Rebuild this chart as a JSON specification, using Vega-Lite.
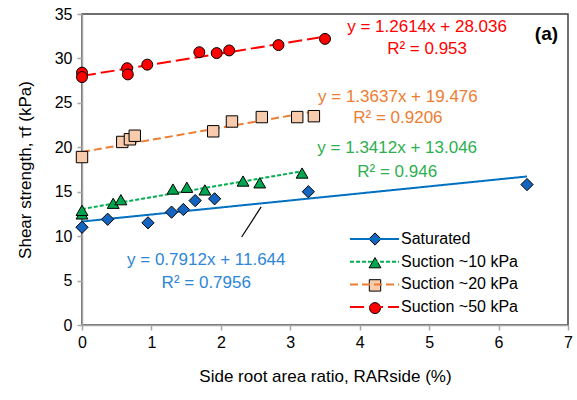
{
  "$schema": "https://vega.github.io/schema/vega-lite/v6.json",
  "width": 486,
  "height": 311,
  "padding": {"left": 82, "top": 14, "right": 9, "bottom": 75},
  "autosize": {"type": "none"},
  "config": {
    "font": "Liberation Sans",
    "view": {"stroke": "#404040", "strokeWidth": 1.5},
    "axis": {"grid": false, "domainColor": "#A6A6A6", "domainWidth": 1.5, "tickColor": "#A6A6A6", "tickWidth": 1.5, "tickSize": 5, "labelFontSize": 16, "labelColor": "#000000", "labelFlush": false, "format": "d", "titleFontSize": 17, "titleFontWeight": "normal", "titleColor": "#000000"}
  },
  "resolve": {"scale": {"color": "independent", "strokeDash": "independent"}},
  "datasets": {
    "pts": [
      {"grp": "Saturated", "x": 0, "y": 11.0},
      {"grp": "Saturated", "x": 0.37, "y": 11.9},
      {"grp": "Saturated", "x": 0.95, "y": 11.5},
      {"grp": "Saturated", "x": 1.29, "y": 12.7},
      {"grp": "Saturated", "x": 1.46, "y": 13.0},
      {"grp": "Saturated", "x": 1.63, "y": 14.0},
      {"grp": "Saturated", "x": 1.91, "y": 14.2},
      {"grp": "Saturated", "x": 3.26, "y": 15.0},
      {"grp": "Saturated", "x": 6.41, "y": 15.8},
      {"grp": "Suction ~10 kPa", "x": 0, "y": 12.5},
      {"grp": "Suction ~10 kPa", "x": 0, "y": 12.9},
      {"grp": "Suction ~10 kPa", "x": 0.45, "y": 13.7},
      {"grp": "Suction ~10 kPa", "x": 0.56, "y": 14.1},
      {"grp": "Suction ~10 kPa", "x": 1.31, "y": 15.3},
      {"grp": "Suction ~10 kPa", "x": 1.51, "y": 15.5},
      {"grp": "Suction ~10 kPa", "x": 1.77, "y": 15.2},
      {"grp": "Suction ~10 kPa", "x": 2.32, "y": 16.2},
      {"grp": "Suction ~10 kPa", "x": 2.56, "y": 16.0},
      {"grp": "Suction ~10 kPa", "x": 3.17, "y": 17.1},
      {"grp": "Suction ~20 kPa", "x": 0, "y": 18.9},
      {"grp": "Suction ~20 kPa", "x": 0.58, "y": 20.6},
      {"grp": "Suction ~20 kPa", "x": 0.69, "y": 20.9},
      {"grp": "Suction ~20 kPa", "x": 0.76, "y": 21.3},
      {"grp": "Suction ~20 kPa", "x": 1.89, "y": 21.8},
      {"grp": "Suction ~20 kPa", "x": 2.16, "y": 22.9},
      {"grp": "Suction ~20 kPa", "x": 2.59, "y": 23.4},
      {"grp": "Suction ~20 kPa", "x": 3.10, "y": 23.4},
      {"grp": "Suction ~20 kPa", "x": 3.34, "y": 23.5},
      {"grp": "Suction ~50 kPa", "x": 0, "y": 28.4},
      {"grp": "Suction ~50 kPa", "x": 0, "y": 27.9},
      {"grp": "Suction ~50 kPa", "x": 0.65, "y": 28.9},
      {"grp": "Suction ~50 kPa", "x": 0.66, "y": 28.2},
      {"grp": "Suction ~50 kPa", "x": 0.94, "y": 29.3},
      {"grp": "Suction ~50 kPa", "x": 1.69, "y": 30.7},
      {"grp": "Suction ~50 kPa", "x": 1.94, "y": 30.6},
      {"grp": "Suction ~50 kPa", "x": 2.12, "y": 30.9},
      {"grp": "Suction ~50 kPa", "x": 2.83, "y": 31.5},
      {"grp": "Suction ~50 kPa", "x": 3.5, "y": 32.2}
    ],
    "lines": [
      {"series": "Saturated", "x": 0, "y": 11.644},
      {"series": "Saturated", "x": 6.41, "y": 16.716},
      {"series": "Suction ~10 kPa", "x": 0, "y": 13.046},
      {"series": "Suction ~10 kPa", "x": 3.17, "y": 17.298},
      {"series": "Suction ~20 kPa", "x": 0, "y": 19.476},
      {"series": "Suction ~20 kPa", "x": 3.34, "y": 24.031},
      {"series": "Suction ~50 kPa", "x": 0, "y": 28.036},
      {"series": "Suction ~50 kPa", "x": 3.5, "y": 32.451}
    ],
    "labels": [
      {"series": "Saturated", "x": 1.79, "y": 7.3, "text": "y = 0.7912x + 11.644"},
      {"series": "Saturated", "x": 1.79, "y": 4.7, "text": "R² = 0.7956"},
      {"series": "Suction ~10 kPa", "x": 4.54, "y": 19.9, "text": "y = 1.3412x + 13.046"},
      {"series": "Suction ~10 kPa", "x": 4.54, "y": 17.2, "text": "R² = 0.946"},
      {"series": "Suction ~20 kPa", "x": 4.55, "y": 25.7, "text": "y = 1.3637x + 19.476"},
      {"series": "Suction ~20 kPa", "x": 4.55, "y": 23.3, "text": "R² = 0.9206"},
      {"series": "Suction ~50 kPa", "x": 4.97, "y": 33.5, "text": "y = 1.2614x + 28.036"},
      {"series": "Suction ~50 kPa", "x": 4.97, "y": 31.1, "text": "R² = 0.953"}
    ]
  },
  "layer": [
    {
      "data": {"name": "lines"},
      "mark": {"type": "line", "strokeWidth": 2},
      "encoding": {
        "x": {"field": "x", "type": "quantitative", "scale": {"domain": [0, 7], "nice": false}, "axis": {"values": [0, 1, 2, 3, 4, 5, 6, 7], "title": "Side root area ratio, RARside (%)", "titlePadding": 18, "labelPadding": 4}},
        "y": {"field": "y", "type": "quantitative", "scale": {"domain": [0, 35], "nice": false}, "axis": {"values": [0, 5, 10, 15, 20, 25, 30, 35], "title": "Shear strength, τf (kPa)", "titlePadding": 20, "labelPadding": 5}},
        "color": {"field": "series", "type": "nominal", "scale": {"range": ["#0070C0", "#00B050", "#ED7D31", "#FF0000"]},
          "legend": {"orient": "none", "legendX": 284.5, "legendY": 217, "title": null, "symbolType": "M-4.9,0H4.9", "symbolSize": 100, "symbolStrokeWidth": 2, "labelFontSize": 16, "labelOffset": 18.5, "rowPadding": 6.7, "labelColor": "#000000"}},
        "strokeDash": {"field": "series", "type": "nominal", "scale": {"range": [[1, 0], [4, 2], [8, 4], [14, 5]]},
          "legend": {"orient": "none", "legendX": 284.5, "legendY": 217, "title": null, "symbolType": "M-4.9,0H4.9", "symbolSize": 100, "symbolStrokeWidth": 2, "labelFontSize": 16, "labelOffset": 18.5, "rowPadding": 6.7, "labelColor": "#000000"}}
      }
    },
    {
      "data": {"values": [{"x1": 2.3, "y1": 9.9, "x2": 2.58, "y2": 13.3}]},
      "mark": {"type": "rule", "color": "#000000", "strokeWidth": 1.2},
      "encoding": {
        "x": {"field": "x1", "type": "quantitative"},
        "y": {"field": "y1", "type": "quantitative"},
        "x2": {"field": "x2"},
        "y2": {"field": "y2"}
      }
    },
    {
      "data": {"name": "pts"},
      "mark": {"type": "point", "filled": true, "stroke": "#000000", "strokeWidth": 1, "opacity": 1},
      "encoding": {
        "x": {"field": "x", "type": "quantitative"},
        "y": {"field": "y", "type": "quantitative"},
        "shape": {"field": "grp", "type": "nominal", "scale": {"range": ["diamond", "triangle-up", "square", "circle"]},
          "legend": {"orient": "none", "legendX": 285, "legendY": 217, "title": null, "symbolStrokeColor": "#000000", "symbolStrokeWidth": 1, "labelFontSize": 16, "rowPadding": 6.7, "labelExpr": "''"}},
        "fill": {"field": "grp", "type": "nominal", "scale": {"range": ["#1565C0", "#00A64F", "#F8CBAD", "#FF0000"]}},
        "size": {"field": "grp", "type": "nominal", "scale": {"range": [150, 120, 90, 110]}}
      }
    },
    {
      "data": {"name": "labels"},
      "mark": {"type": "text", "fontSize": 17, "align": "center", "baseline": "middle"},
      "encoding": {
        "x": {"field": "x", "type": "quantitative"},
        "y": {"field": "y", "type": "quantitative"},
        "text": {"field": "text"},
        "color": {"field": "series", "type": "nominal", "scale": {"range": ["#2E86D8", "#2DB04F", "#ED7D31", "#FF0000"]}, "legend": null}
      }
    },
    {
      "data": {"values": [{"x": 6.69, "y": 32.8, "text": "(a)"}]},
      "mark": {"type": "text", "fontSize": 19, "fontWeight": "bold", "align": "center", "baseline": "middle", "color": "#000000"},
      "encoding": {
        "x": {"field": "x", "type": "quantitative"},
        "y": {"field": "y", "type": "quantitative"},
        "text": {"field": "text"}
      }
    }
  ]
}
